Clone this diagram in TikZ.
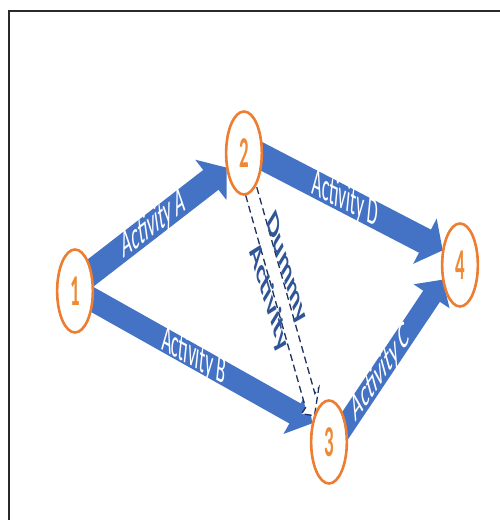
\documentclass[tikz,border=0pt]{standalone}
\usepackage{fontspec}
\setmainfont{Carlito}
\usetikzlibrary{arrows.meta,calc,backgrounds}
\definecolor{ablue}{HTML}{4472C4}
\definecolor{nodeor}{HTML}{ED7D31}
\definecolor{digitor}{HTML}{EE8A35}
\definecolor{dblue}{HTML}{2F5597}
\definecolor{dashc}{HTML}{1F3060}
\definecolor{framec}{HTML}{2A2A2A}
\tikzset{
  evnode/.style={circle, draw=nodeor, line width=2.6pt, fill=white, minimum size=83pt,
    inner sep=0pt, text=digitor, font=\fontsize{44}{48}\selectfont\bfseries},
  actarrow/.style={draw=ablue, line width=#1, shorten <=-12pt},
  actlabel/.style={text=white, font=\fontsize{40}{44}\selectfont, inner sep=0pt},
  dummyarrow/.style={draw=dashc, line width=1.3pt, dash pattern=on 7pt off 4pt, fill=white},
  dummytext/.style={text=dblue, font=\fontsize{40}{50}\selectfont\bfseries, align=center, inner sep=0pt},
}
\begin{document}
\begin{tikzpicture}[x=1pt,y=1pt]
\useasboundingbox (0,0) rectangle (500,520);
\begin{scope}[on background layer]
  \fill[white] (0,0) rectangle (500,520);
\end{scope}
\begin{scope}[xscale=0.43, transform shape]
  \node[evnode] (n1) at (174.4,229) {1};
  \node[evnode] (n2) at (567.4,367) {2};
  \node[evnode] (n3) at (765.1,78) {3};
  \node[evnode] (n4) at (1069.8,255) {4};
  \begin{scope}[on background layer]
    \draw[actarrow=25pt, -{Triangle[width=50pt,length=20pt]}] (n1.26) -- (n2.200);
    \draw[actarrow=23pt, -{Triangle[width=46pt,length=20pt]}] (n1.-12) -- (n3.154);
    \draw[actarrow=26pt, -{Triangle[width=50pt,length=20pt]}] (n2.-5) -- (n4.160);
    \draw[actarrow=20pt, -{Triangle[width=42pt,length=20pt]}] (n3.24) -- (n4.200);
    \node[actlabel, rotate=18.4] (la) at ($(n1.26)!0.46!(n2.200)$) {Activity A};
    \node[actlabel, rotate=-13.6] (lb) at ($(n1.-12)!0.46!(n3.154)$) {Activity B};
    \node[actlabel, rotate=-12.6] (ld) at ($(n2.-5)!0.46!(n4.160)$) {Activity D};
    \node[actlabel, rotate=32.6] (lc) at ($(n3.24)!0.36!(n4.200)$) {Activity C};
    \coordinate (ds) at ($(n2.-66)!-10pt!(n3.142)$);
    \coordinate (de) at (n3.142);
    \coordinate (dh) at ($(de)!18pt!(ds)$);
    \draw[dummyarrow] ($(ds)!13pt!90:(de)$) -- ($(dh)!13pt!90:(de)$) -- ($(dh)!24pt!90:(de)$)
      -- (de) -- ($(dh)!24pt!-90:(de)$) -- ($(dh)!13pt!-90:(de)$) -- ($(ds)!13pt!-90:(de)$) -- cycle;
    \node[dummytext, rotate=-55] (dt) at (645,236) {Dummy\\Activity};
  \end{scope}
\end{scope}
\draw[framec, line width=2pt] (8.5,0) -- (8.5,509) -- (500,509);
\end{tikzpicture}
\end{document}
